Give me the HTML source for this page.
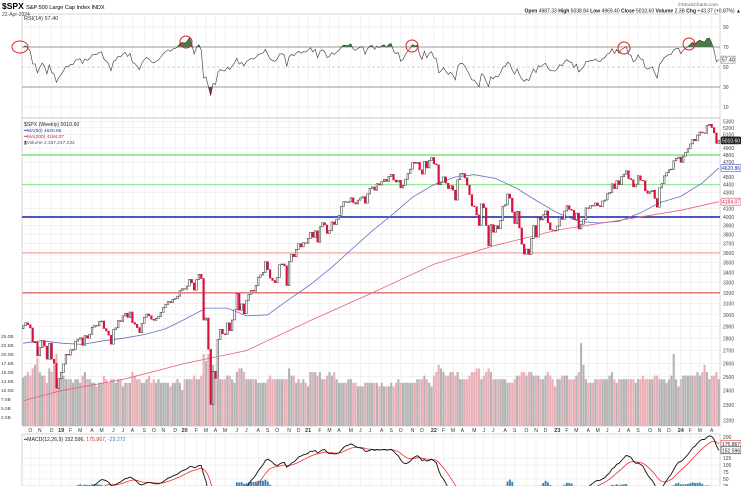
<!DOCTYPE html>
<html><head><meta charset="utf-8"><style>
html,body{margin:0;padding:0;background:#fff;width:741px;height:486px;overflow:hidden;}
svg{display:block;font-family:"Liberation Sans",sans-serif;}
</style></head><body>
<svg id="c" width="741" height="486" viewBox="0 0 741 486" xmlns="http://www.w3.org/2000/svg">
<g id="grid"></g>
<g id="vol"></g>
<g id="hl"></g>
<g id="ma"></g>
<g id="candles"></g>
<g id="rsi"></g>
<g id="macd"></g>
<g id="axes"></g>
<g id="txt">
<text x="2" y="9" font-size="8.5" font-weight="bold">$SPX <tspan font-size="5.5" font-weight="normal">S&amp;P 500 Large Cap Index  INDX</tspan></text>
<text x="2" y="16" font-size="5" fill="#444">22-Apr-2024</text>
<text x="24" y="20" font-size="5.5" fill="#333">RSI(14) 57.40</text>
<text x="718" y="6" font-size="4.8" fill="#666" text-anchor="end">©StockCharts.com</text>
<text x="741" y="12.5" font-size="5" fill="#222" text-anchor="end"><tspan font-weight="bold">Open</tspan> 4987.33 <tspan font-weight="bold">High</tspan> 5038.84 <tspan font-weight="bold">Low</tspan> 4969.40 <tspan font-weight="bold">Close</tspan> 5010.60 <tspan font-weight="bold">Volume</tspan> 2.3B <tspan font-weight="bold">Chg</tspan> +43.37 (+0.87%) ▲ </text>
<text x="24" y="126" font-size="5.2" fill="#222">$SPX (Weekly) 5010.60</text>
<text x="24" y="132" font-size="4.8" fill="#2233aa">━MA(50) 4620.86</text>
<text x="24" y="138" font-size="4.8" fill="#d02040">━MA(200) 4184.07</text>
<text x="24" y="144" font-size="4.8" fill="#555">▮Volume 2,337,247,232</text>
<text x="24" y="441" font-size="5.2" fill="#222">━MACD(12,26,9) 152.596, <tspan fill="#e03030">175.867</tspan>, <tspan fill="#3388bb">-23.272</tspan></text>
</g>
</svg>
<script>
const closes=[2905,2930,2914,2886,2767,2768,2659,2723,2781,2736,2633,2760,2633,2600,2417,2486,
2532,2596,2671,2665,2707,2708,2776,2793,2804,2743,2822,2801,2834,2893,2907,2905,2940,2946,2881,2860,2826,2752,2873,2887,2950,2942,2990,3014,2977,3025,2932,2918,2889,2847,2926,2979,3007,2992,2961,2952,2970,2986,3022,3066,3093,3120,3110,3141,3146,3169,3221,3240,
3235,3265,3330,3295,3226,3328,3380,3338,2954,2972,2711,2305,2541,2489,2790,2875,2837,2831,2930,2864,2955,3044,3194,3041,3098,3009,3130,3185,3225,3216,3271,3351,3373,3397,3508,3427,3341,3319,3298,3348,3477,3484,3465,3270,3509,3585,3558,3638,3699,3663,3709,3703,3756,
3825,3768,3841,3714,3887,3934,3907,3811,3842,3943,3913,3975,4020,4129,4185,4180,4181,4233,4174,4156,4204,4230,4247,4166,4281,4352,4370,4327,4412,4395,4437,4468,4442,4509,4535,4459,4433,4455,4357,4391,4471,4545,4605,4697,4683,4698,4595,4538,4712,4621,4725,4766,
4677,4663,4398,4432,4501,4419,4349,4385,4329,4204,4463,4543,4546,4488,4392,4272,4132,4123,4024,3901,4158,4109,3901,3675,3912,3825,3899,3863,3962,4130,4145,4280,4228,4058,3924,4067,3873,3693,3586,3640,3583,3753,3901,3771,3993,3965,4026,4072,3934,3852,3845,3840,
3895,3999,3972,4071,4136,4090,4079,3970,4046,3862,3917,3971,4109,4105,4138,4133,4169,4136,4124,4192,4205,4282,4299,4410,4348,4450,4399,4505,4536,4582,4478,4464,4370,4406,4516,4457,4450,4320,4288,4308,4327,4224,4117,4358,4415,4514,4559,4595,4604,4719,4754,4770,
4697,4784,4840,4891,4959,5027,5006,5089,5137,5124,5117,5234,5254,5204,5123,4967,5010];
const firstOpen=2880;
const volumes=[13.5,14,15,14,16,17,19,15,14,14,12,16,15,17,20,12,
15,14,13,13,13,12,13,13,12,14,15,13,13,12,12,11,12,12,14,13,12,13,13,12,13,13,11,12,12,12,15,14,13,13,12,12,13,14,12,13,12,13,12,12,12,12,11,12,12,13,12,10,
13,13,13,13,14,13,13,14,20,18,20,21,17,14,13,13,13,13,14,14,13,12,15,16,16,15,13,13,13,13,13,12,12,12,12,13,14,13,13,13,13,13,13,13,16,14,14,12,13,12,13,12,11,
15,15,15,14,15,13,13,14,15,14,15,13,12,12,12,12,13,13,12,12,11,11,11,12,12,12,12,12,12,11,12,11,11,11,12,11,12,13,12,12,12,12,12,12,12,13,13,13,14,13,12,11,
14,15,17,16,15,14,14,15,15,14,15,13,13,13,13,14,15,15,16,16,13,14,15,16,15,13,13,13,13,13,13,12,12,12,13,14,14,15,15,14,15,15,14,14,14,13,13,14,15,14,13,11,
13,13,14,14,14,13,13,13,14,15,23,17,13,12,12,12,13,13,13,13,13,13,14,15,13,12,13,13,13,13,13,13,13,12,13,13,14,13,13,13,13,14,14,13,13,13,12,13,14,20,13,11,
13,14,14,14,14,14,14,15,14,15,17,15,13,14,14,15,13];
const maWeeks=[0,16,42,68,94,121,147,173,199,225,251,277,293];
const ma200Vals=[2330,2400,2480,2600,2700,2950,3200,3480,3680,3850,3960,4080,4184];
const ma50Weeks=[0,8,16,25,34,42,51,60,68,77,86,94,103,112,121,130,138,147,156,164,173,182,190,199,208,216,225,234,242,251,260,268,277,286,293];
const ma50Vals=[2760,2780,2760,2750,2780,2800,2830,2880,2960,3060,3060,2990,3000,3140,3280,3450,3630,3840,4040,4240,4400,4500,4530,4480,4350,4200,4050,3950,3930,3950,4050,4170,4250,4420,4621];
const priceTicks=[5300,5200,5100,4900,4800,4700,4500,4400,4300,4100,4000,3900,3800,3700,3600,3500,3400,3300,3200,3100,3000,2900,2800,2700,2600,2500,2400,2300,2200];
const hLines=[[4800,'#33dd33',1],[4400,'#88e888',1],[4000,'#1122aa',1.6],[3600,'#f09090',1],[3200,'#e03030',1]];
const rsiTicks=[90,70,50,30,10];
const macdTicks=[200,125,100,75,50,25];
const volTicks=['25.0B','22.5B','20.0B','17.5B','15.0B','12.5B','10.0B','7.5B','5.0B','2.5B'];
const volTickVals=[25,22.5,20,17.5,15,12.5,10,7.5,5,2.5];
const circles=[[20,47],[186,42],[412,46],[624,48],[689,44]];

const NS='http://www.w3.org/2000/svg';
const N=closes.length, L=22, R=720, W=(R-L)/N;
const X=i=>L+(i+0.5)*W;
const PY=p=>217-340*Math.log(p/4000);
const RY=v=>117-v;
const VY=v=>426-3.6*v;
function MYf(v){return 493-v*0.28;}
function el(tag,attrs,parent){const e=document.createElementNS(NS,tag);for(const k in attrs)e.setAttribute(k,attrs[k]);parent.appendChild(e);return e;}
const G=id=>document.getElementById(id);
const grid=G('grid'),axes=G('axes');

[[14,118],[118,426],[434,486]].forEach((p,k)=>{
  const r=el('rect',{x:L,y:p[0],width:R-L,height:p[1]-p[0],fill:'none',stroke:'#bbb','stroke-width':0.6},grid);
  
  
});
const start=new Date(2018,8,14);
const mnames='JFMAMJJASOND';
let prevM=-1;
for(let i=0;i<N;i++){
  const d=new Date(start.getTime()+i*7*86400000);
  if(d.getMonth()!==prevM){
    if(prevM!==-1){
      const x=X(i);
      [[14,118],[118,426],[434,486]].forEach(p=>{const l=el('line',{x1:x,x2:x,y1:p[0],y2:p[1],stroke:'#e4e4e4','stroke-width':0.5},grid);
        
        });
      const jan=d.getMonth()===0;
      const t=el('text',{x:x,y:432,'font-size':jan?5.5:5,'font-weight':jan?'bold':'normal','text-anchor':'middle',fill:'#333'},axes);
      t.textContent=jan?String(d.getFullYear()).slice(2):mnames[d.getMonth()];
      
      
    }
    prevM=d.getMonth();
  }
}
priceTicks.forEach(p=>{
  const y=PY(p);
  const l=el('line',{x1:L,x2:R,y1:y,y2:y,stroke:'#e4e4e4','stroke-width':0.5},grid);
  
  
  const t=el('text',{x:723,y:y+2,'font-size':5,fill:'#444'},axes);t.textContent=p;
  
  
});
volTickVals.forEach((v,k)=>{
  const t=el('text',{x:1,y:VY(v)+2,'font-size':4.8,fill:'#444'},axes);t.textContent=volTicks[k];
  
  
});
const vg=G('vol');
for(let i=0;i<N;i++){
  const o=i?closes[i-1]:firstOpen, up=closes[i]>=o;
  const r=el('rect',{x:X(i)-W*0.45,y:VY(volumes[i]),width:W*0.9,height:426-VY(volumes[i]),fill:up?'#b4b4b4':'#eab0b8'},vg);
  
  
}
hLines.forEach(h=>{const y=PY(h[0]);const l=el('line',{x1:L,x2:R,y1:y,y2:y,stroke:h[1],'stroke-width':h[2]},G('hl'));
  
  });
function maPath(ws,vs,col,name){
  const d=ws.map((w,k)=>(k?'L':'M')+X(w).toFixed(1)+','+PY(vs[k]).toFixed(1)).join('');
  const p=el('path',{d:d,fill:'none',stroke:col,'stroke-width':0.8},G('ma'));
  
  
}
maPath(ma50Weeks,ma50Vals,'#6870c0','ma50-line');
maPath(maWeeks,ma200Vals,'#e86078','ma200-line');
const cg=G('candles');
for(let i=0;i<N;i++){
  const o=i?closes[i-1]:firstOpen,c=closes[i],up=c>=o;
  const y1=PY(Math.max(o,c)),y2=PY(Math.min(o,c));
  const r=el('rect',{x:X(i)-W*0.35,y:y1,width:W*0.7,height:Math.max(0.6,y2-y1),fill:up?'#fff':'#d8103c',stroke:up?'#222':'#d8103c','stroke-width':0.5},cg);
  
  
}
[[5010.6,'5010.60','#222','#222','#fff'],[4620.86,'4620.86','#5060c0','#fff','#2233aa'],[4184.07,'4184.07','#e05070','#fff','#c02040']].forEach(t=>{
  const y=PY(t[0]);
  const r=el('rect',{x:721,y:y-3.5,width:20,height:7,fill:t[3],stroke:t[2],'stroke-width':0.6,rx:1},axes);
  
  
  const tx=el('text',{x:722,y:y+2,'font-size':5,fill:t[4]},axes);tx.textContent=t[1];
  
  
});
const rg=G('rsi');
rsiTicks.forEach(v=>{
  const y=RY(v);
  const main=v===70||v===30;
  const l=el('line',{x1:L,x2:R,y1:y,y2:y,stroke:main?'#999':(v===50?'#aaa':'#e4e4e4'),'stroke-width':main?1:0.6,'stroke-dasharray':v===50?'3,2':'none'},grid);
  
  
  const t=el('text',{x:723,y:y+2,'font-size':5,fill:'#444'},axes);t.textContent=v;
  
  
});
const rsi=[];let ag=30,al=13;
for(let i=0;i<N;i++){
  if(i>0){
    const ch=closes[i]-closes[i-1],g=Math.max(ch,0),lo=Math.max(-ch,0);
    ag=(ag*13+g)/14;al=(al*13+lo)/14;
  }
  rsi.push(al===0?100:100-100/(1+ag/al));
}
const rd=rsi.map((v,i)=>(i?'L':'M')+X(i).toFixed(1)+','+RY(v).toFixed(1)).join('');
const defs=el('defs',{},rg);
const c1=el('clipPath',{id:'ob'},defs);el('rect',{x:L,y:14,width:R-L,height:RY(70)-14},c1);
const c2=el('clipPath',{id:'os'},defs);el('rect',{x:L,y:RY(30),width:R-L,height:118-RY(30)},c2);
const a1=el('path',{d:rd+'L'+X(N-1)+','+RY(70)+'L'+X(0)+','+RY(70)+'Z',fill:'#4a7a4a','clip-path':'url(#ob)'},rg);


const a2=el('path',{d:rd+'L'+X(N-1)+','+RY(30)+'L'+X(0)+','+RY(30)+'Z',fill:'#8a3040','clip-path':'url(#os)'},rg);


const rl=el('path',{d:rd,fill:'none',stroke:'#333','stroke-width':0.6},rg);


circles.forEach(c=>{const e=el('ellipse',{cx:c[0],cy:c[1],rx:c[0]<30?8:6,ry:6,fill:'none',stroke:'#e02020','stroke-width':1},rg);
  
  });
const rt=el('rect',{x:721,y:RY(rsi[N-1])-3.5,width:14,height:7,fill:'#fff',stroke:'#666','stroke-width':0.5},axes);


const rtt=el('text',{x:722,y:RY(rsi[N-1])+2,'font-size':5,fill:'#222'},axes);rtt.textContent='57.40';


const mg=G('macd');
const c3=el('clipPath',{id:'mc'},defs);el('rect',{x:L,y:434,width:R-L,height:52},c3);
macdTicks.forEach(v=>{const y=MYf(v);
  const l=el('line',{x1:L,x2:R,y1:y,y2:y,stroke:'#e4e4e4','stroke-width':0.5},grid);
  
  
  const t=el('text',{x:723,y:y+2,'font-size':5,fill:'#444'},axes);t.textContent=v;
  
  });
function ema(arr,n){const k=2/(n+1);const o=[];arr.forEach((v,i)=>o.push(i?o[i-1]+k*(v-o[i-1]):v));return o;}
const e12=ema(closes,12),e26=ema(closes,26);
const macd=e12.map((v,i)=>v-e26[i]);
const sig=ema(macd,9);
const mgc=el('g',{'clip-path':'url(#mc)'},mg);


for(let i=0;i<N;i++){const h=macd[i]-sig[i];if(h<=0)continue;
  const b=el('rect',{x:X(i)-W*0.4,y:MYf(h),width:W*0.8,height:MYf(0)-MYf(h),fill:'#3a88b8'},mgc);
  
  }
const sl=el('path',{d:sig.map((v,i)=>(i?'L':'M')+X(i).toFixed(1)+','+MYf(v).toFixed(1)).join(''),fill:'none',stroke:'#f03030','stroke-width':0.8},mgc);


const ml=el('path',{d:macd.map((v,i)=>(i?'L':'M')+X(i).toFixed(1)+','+MYf(v).toFixed(1)).join(''),fill:'none',stroke:'#111','stroke-width':0.9},mgc);


[[175.867,'175.867','#e03030'],[152.596,'152.596','#222']].forEach(t=>{const y=MYf(t[0]);
  const r=el('rect',{x:721,y:y-3.5,width:20,height:7,fill:'#fff',stroke:t[2],'stroke-width':0.6},axes);
  
  
  const tx=el('text',{x:722,y:y+2,'font-size':5,fill:'#222'},axes);tx.textContent=t[1];
  
  });
</script>
</body></html>
